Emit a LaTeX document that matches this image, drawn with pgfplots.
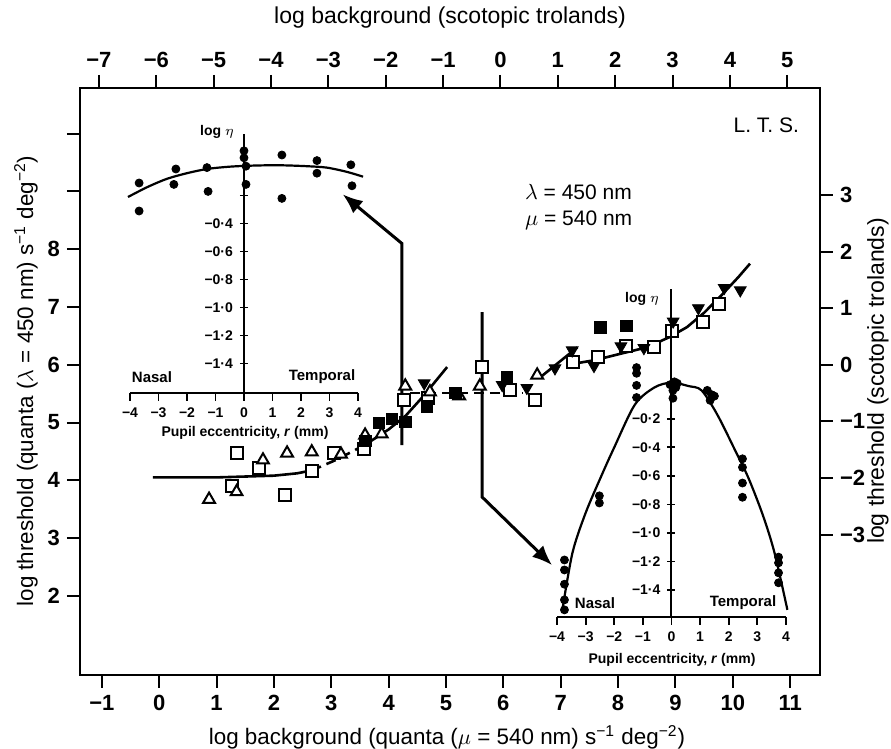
\documentclass[border=0pt]{standalone}
\usepackage{fontspec}
\setmainfont{Liberation Sans}
\usepackage{pgfplots}
\pgfplotsset{compat=1.18}
\usetikzlibrary{arrows.meta}

\pgfplotsset{
  opensq/.style={only marks, mark=square*, mark size=3pt, mark options={fill=white, draw=black, line width=1pt}},
  opentri/.style={only marks, mark=triangle*, mark size=3.4pt, mark options={fill=white, draw=black, line width=1pt}},
  fillsq/.style={only marks, mark=square*, mark size=2.9pt, mark options={fill=black, draw=black}},
  filltri/.style={only marks, mark=triangle*, mark size=3.4pt, mark options={fill=black, draw=black, rotate=180}},
  dots/.style={only marks, mark=*, mark size=2pt, mark options={fill=black, draw=black}},
  inset/.style={
    scale only axis, anchor=south west, clip=false,
    xmin=-4, xmax=4,
    axis x line=bottom, axis y line=middle,
    axis line style={line width=1pt, -},
    xtick={-4,-3,-2,-1,0,1,2,3,4},
    xticklabels={−4,−3,−2,−1,0,1,2,3,4},
    xtick align=outside, ytick align=center,
    major tick length=4pt,
    tick style={line width=0.9pt, black},
    hide obscured x ticks=false, hide obscured y ticks=false,
    tick label style={font=\bfseries\fontsize{7}{8}\selectfont},
  },
}

\begin{document}
\begin{tikzpicture}

% main axis: log background (quanta) vs log threshold (quanta)
\begin{axis}[
  at={(0pt,0pt)}, anchor=south west,
  scale only axis, width=370pt, height=293.5pt,
  xmin=-1.38, xmax=11.52, ymin=0.63, ymax=10.79,
  axis line style={line width=1.3pt},
  tick style={line width=1pt, black},
  tick align=outside, major tick length=6.5pt,
  xtick pos=left, ytick pos=left,
  xtick={-1,0,1,2,3,4,5,6,7,8,9,10,11},
  xticklabels={−1,0,1,2,3,4,5,6,7,8,9,10,11},
  ytick={2,3,4,5,6,7,8,9,10},
  yticklabels={2,3,4,5,6,7,8,,},
  tick label style={font=\bfseries\fontsize{11}{12}\selectfont},
  clip=false,
]
% rod branch
\addplot[line width=1.3pt] coordinates {(-0.11,4.05) (1.0,4.05) (2.0,4.08) (2.4,4.12) (2.66,4.17)};
\addplot[line width=1.3pt, dash pattern=on 5pt off 3pt] coordinates {(2.66,4.17) (3.1,4.36) (3.6,4.62)};
\addplot[line width=1.3pt] coordinates {(3.6,4.62) (4.0,4.88) (4.3,5.12) (4.6,5.45) (5.02,5.96)};
% plateau
\addplot[line width=1.3pt, dash pattern=on 5pt off 3pt] coordinates {(4.37,5.51) (6.35,5.51)};
% cone branch
\addplot[line width=1.3pt] coordinates {(6.64,5.78) (7.29,6.30)};
\addplot[line width=1.3pt] coordinates {(7.3,6.03) (7.6,6.08) (8.0,6.18) (8.5,6.30) (8.9,6.48) (9.2,6.65) (9.5,6.9) (9.8,7.2) (10.1,7.52) (10.3,7.75)};

\addplot[opensq] coordinates {
  (1.36,4.47) (1.74,4.21) (1.27,3.90) (2.19,3.74) (2.66,4.16) (3.05,4.47)
  (3.57,4.54) (4.27,5.39) (4.69,5.42) (5.63,5.96) (6.12,5.56) (6.55,5.39)
  (7.22,6.04) (7.65,6.13) (8.14,6.32) (8.63,6.30) (8.94,6.58) (9.48,6.74) (9.76,7.05)
};
\addplot[opentri] coordinates {
  (0.87,3.67) (1.35,3.80) (1.81,4.35) (2.23,4.47) (2.66,4.49) (3.17,4.45)
  (3.59,4.78) (3.88,4.80) (4.29,5.63) (4.72,5.53) (5.23,5.46) (5.59,5.63) (6.59,5.82)
};
\addplot[fillsq] coordinates {
  (3.59,4.68) (3.83,4.99) (4.06,5.06) (4.29,5.01) (4.67,5.28) (5.16,5.51)
  (6.06,5.79) (7.69,6.65) (8.14,6.67)
};
\addplot[filltri] coordinates {
  (4.62,5.68) (5.98,5.65) (6.41,5.60) (6.90,5.94) (7.20,6.25) (7.58,5.98)
  (8.05,6.32) (8.45,6.29) (8.96,6.75) (9.40,6.98) (9.85,7.33) (10.13,7.29)
};

% arrows to the insets
\addplot[line width=1.5pt, -{Latex[length=10pt,width=8pt]}] coordinates {(4.23,4.61) (4.23,8.10) (3.20,8.95)};
\addplot[line width=1.5pt, -{Latex[length=10pt,width=8pt]}] coordinates {(5.63,6.91) (5.63,3.71) (6.85,2.53)};
\end{axis}

% top and right scales (scotopic trolands)
\begin{axis}[
  at={(0pt,0pt)}, anchor=south west,
  scale only axis, width=370pt, height=293.5pt,
  xmin=-7.33, xmax=5.57, ymin=-5.48, ymax=4.89,
  axis x line*=top, axis y line*=right,
  axis line style={line width=1.3pt, -},
  tick style={line width=1pt, black},
  tick align=outside, major tick length=6.5pt,
  xtick={-7,-6,-5,-4,-3,-2,-1,0,1,2,3,4,5},
  xticklabels={−7,−6,−5,−4,−3,−2,−1,0,1,2,3,4,5},
  ytick={-3,-2,-1,0,1,2,3},
  yticklabels={−3,−2,−1,0,1,2,3},
  tick label style={font=\bfseries\fontsize{11}{12}\selectfont},
]
\addplot[draw=none] coordinates {(0,0)};
\end{axis}

% upper inset
\begin{axis}[inset,
  at={(25pt,141pt)}, width=114pt, height=129.5pt,
  ymin=-1.61, ymax=0.24,
  ytick={-1.4,-1.2,-1.0,-0.8,-0.6,-0.4,-0.2},
  yticklabels={−1·4,−1·2,−1·0,−0·8,−0·6,−0·4,},
]
\addplot[line width=1.1pt, smooth] coordinates {
  (-4.07,-0.21) (-3.4,-0.14) (-2.7,-0.08) (-2.0,-0.04) (-1.3,-0.01) (-0.6,0.005)
  (0,0.012) (0.7,0.016) (1.4,0.016) (2.2,0.01) (2.9,0.0) (3.6,-0.03) (4.18,-0.065)
};
\addplot[dots] coordinates {
  (-3.68,-0.11) (-3.68,-0.31) (-2.39,-0.01) (-2.46,-0.12) (-1.30,0.0) (-1.26,-0.17)
  (0,0.12) (0,0.07) (0.07,0.01) (0.07,-0.12) (1.33,0.09) (1.33,-0.22)
  (2.56,0.05) (2.56,-0.04) (3.75,0.02) (3.79,-0.13)
};
\end{axis}

% lower inset
\begin{axis}[inset,
  at={(238.5pt,29pt)}, width=114.5pt, height=163.9pt,
  ymin=-1.59, ymax=0.71,
  ytick={-1.4,-1.2,-1.0,-0.8,-0.6,-0.4,-0.2},
  yticklabels={−1·4,−1·2,−1·0,−0·8,−0·6,−0·4,−0·2},
]
\addplot[line width=1.1pt, smooth] coordinates {
  (-3.82,-1.55) (-3.46,-1.14) (-3.0,-0.86) (-2.45,-0.60) (-2.0,-0.40) (-1.28,-0.10)
  (-0.6,0.02) (0,0.055) (0.6,0.03) (1.05,0.0) (1.6,-0.17) (2.27,-0.44) (2.7,-0.62)
  (3.2,-0.88) (3.6,-1.14) (4.05,-1.54)
};
\addplot[dots] coordinates {
  (-0.05,0.04) (0.1,0.06) (0.2,0.05) (0.05,0.0) (0.15,0.02) (0.05,-0.055)
  (-1.22,0.16) (-1.22,0.12) (-1.22,0.035) (-1.22,-0.05)
  (1.25,0.0) (1.4,-0.03) (1.5,-0.04) (1.35,-0.07)
  (-2.52,-0.74) (-2.52,-0.79)
  (2.48,-0.48) (2.48,-0.54) (2.48,-0.65) (2.48,-0.75)
  (-3.74,-1.19) (-3.74,-1.26) (-3.74,-1.36) (-3.74,-1.47) (-3.74,-1.54)
  (3.74,-1.17) (3.74,-1.21) (3.74,-1.28) (3.74,-1.35)
};
\end{axis}

% titles
\node[font=\fontsize{11.5}{13}\selectfont] at (185pt,328.5pt) {log background (scotopic trolands)};
\node[font=\fontsize{11.2}{13}\selectfont] at (183.5pt,-31pt) {log background (quanta ($\mu$ = 540 nm) s\textsuperscript{−1} deg\textsuperscript{−2})};
\node[font=\fontsize{11.2}{13}\selectfont, rotate=90] at (-27pt,147pt) {log threshold (quanta ($\lambda$ = 450 nm) s\textsuperscript{−1} deg\textsuperscript{−2})};
\node[font=\fontsize{11.5}{13}\selectfont, rotate=90] at (399pt,147pt) {log threshold (scotopic trolands)};

% annotations
\node[font=\fontsize{10.5}{12}\selectfont, anchor=east] at (363pt,275pt) {L. T. S.};
\node[font=\fontsize{10.5}{12}\selectfont, anchor=west, align=left] at (219pt,234pt) {$\lambda$ = 450 nm\\[1pt]$\mu$ = 540 nm};

% inset labels
\node[font=\bfseries\fontsize{7}{8}\selectfont] at (68.5pt,271.5pt) {log $\eta$};
\node[font=\bfseries\fontsize{7.5}{8}\selectfont] at (36pt,149pt) {Nasal};
\node[font=\bfseries\fontsize{7.5}{8}\selectfont] at (121pt,149pt) {Temporal};
\node[font=\bfseries\fontsize{7}{8}\selectfont] at (82.5pt,121pt) {Pupil eccentricity, \textit{r} (mm)};
\node[font=\bfseries\fontsize{7}{8}\selectfont] at (281pt,188pt) {log $\eta$};
\node[font=\bfseries\fontsize{7.5}{8}\selectfont] at (257.5pt,36pt) {Nasal};
\node[font=\bfseries\fontsize{7.5}{8}\selectfont] at (331.5pt,36pt) {Temporal};
\node[font=\bfseries\fontsize{7}{8}\selectfont] at (296pt,7.5pt) {Pupil eccentricity, \textit{r} (mm)};

\pgfresetboundingbox
\useasboundingbox (-40pt,-37pt) rectangle (405.5pt,337.5pt);
\end{tikzpicture}
\end{document}
